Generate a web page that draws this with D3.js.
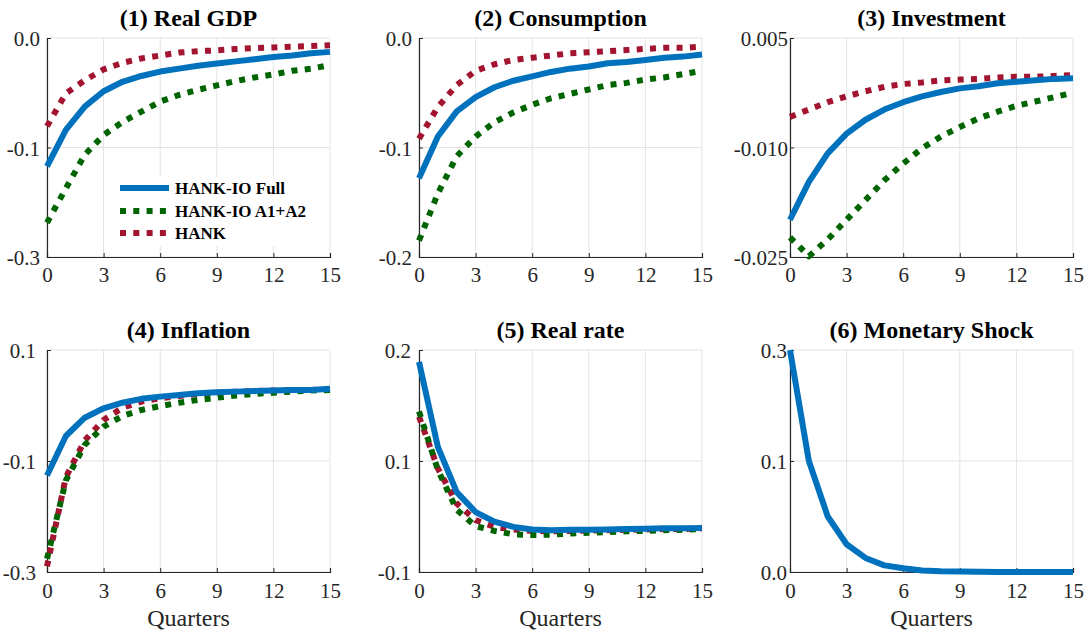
<!DOCTYPE html>
<html>
<head>
<meta charset="utf-8">
<script src="https://cdn.jsdelivr.net/npm/d3@7/dist/d3.min.js"></script>
<style>
  html, body { margin: 0; padding: 0; background: #fff; }
  svg { display: block; font-family: "Liberation Serif", "Times New Roman", serif; }
</style>
</head>
<body>
<svg id="chart" width="1086" height="637"></svg>
<script>
// Horizon (quarters after the shock)
const quarters = [0, 1, 2, 3, 4, 5, 6, 7, 8, 9, 10, 11, 12, 13, 14, 15];
const xTicks = [0, 3, 6, 9, 12, 15];

// Series names
const seriesNames = ["HANK-IO Full", "HANK-IO A1+A2", "HANK"];

// (1) Real GDP
const gdpFull = [-0.176, -0.126, -0.094, -0.073, -0.060, -0.052, -0.046, -0.042, -0.038, -0.035, -0.032, -0.029, -0.026, -0.024, -0.021, -0.019];
const gdpA1A2 = [-0.253, -0.206, -0.160, -0.133, -0.115, -0.101, -0.087, -0.078, -0.071, -0.065, -0.059, -0.054, -0.050, -0.045, -0.042, -0.037];
const gdpHank = [-0.121, -0.076, -0.058, -0.043, -0.034, -0.028, -0.024, -0.020, -0.018, -0.017, -0.015, -0.014, -0.013, -0.012, -0.011, -0.010];

// (2) Consumption
const consFull = [-0.128, -0.090, -0.067, -0.054, -0.045, -0.039, -0.035, -0.031, -0.028, -0.026, -0.023, -0.022, -0.020, -0.018, -0.017, -0.015];
const consA1A2 = [-0.185, -0.142, -0.108, -0.090, -0.077, -0.068, -0.061, -0.055, -0.051, -0.047, -0.043, -0.041, -0.038, -0.036, -0.033, -0.030];
const consHank = [-0.092, -0.063, -0.043, -0.030, -0.024, -0.020, -0.018, -0.016, -0.014, -0.013, -0.012, -0.011, -0.010, -0.009, -0.009, -0.008];

// (3) Investment
const invFull = [-0.0199, -0.0147, -0.0108, -0.0081, -0.0062, -0.0048, -0.0038, -0.0030, -0.0024, -0.0019, -0.0016, -0.0012, -0.0010, -0.0008, -0.0006, -0.0005];
const invA1A2 = [-0.0223, -0.0249, -0.0226, -0.0199, -0.0172, -0.0145, -0.0122, -0.0101, -0.0085, -0.0072, -0.0060, -0.0051, -0.0043, -0.0037, -0.0031, -0.0025];
const invHank = [-0.0058, -0.0048, -0.0038, -0.0030, -0.0023, -0.0017, -0.0013, -0.0011, -0.0008, -0.0007, -0.0006, -0.0004, -0.0003, -0.0003, -0.0002, -0.0001];

// (4) Inflation
const inflFull = [-0.126, -0.055, -0.022, -0.005, 0.005, 0.012, 0.016, 0.019, 0.022, 0.024, 0.025, 0.026, 0.027, 0.028, 0.028, 0.030];
const inflA1A2 = [-0.276, -0.135, -0.071, -0.038, -0.019, -0.008, -0.001, 0.005, 0.010, 0.014, 0.018, 0.021, 0.023, 0.025, 0.027, 0.028];
const inflHank = [-0.290, -0.129, -0.063, -0.026, -0.004, 0.007, 0.013, 0.017, 0.021, 0.023, 0.025, 0.026, 0.027, 0.028, 0.028, 0.029];

// (5) Real rate
const rateFull = [0.184, 0.069, 0.008, -0.019, -0.032, -0.039, -0.0425, -0.0435, -0.043, -0.043, -0.0425, -0.042, -0.0415, -0.041, -0.041, -0.0405];
const rateA1A2 = [0.117, 0.038, -0.016, -0.038, -0.0445, -0.049, -0.050, -0.0495, -0.048, -0.047, -0.046, -0.045, -0.0445, -0.0435, -0.043, -0.042];
const rateHank = [0.110, 0.040, -0.0075, -0.030, -0.039, -0.0425, -0.0445, -0.045, -0.0445, -0.044, -0.0435, -0.043, -0.0425, -0.042, -0.042, -0.041];

// (6) Monetary shock
const shockFull = [0.300, 0.150, 0.075, 0.0375, 0.019, 0.009, 0.005, 0.002, 0.001, 0.0006, 0.0003, 0.0001, 0.0001, 0, 0, 0];

// Y-axis limits, tick positions and tick labels per panel
const yDomains = [[-0.3, 0], [-0.2, 0], [-0.025, 0.005], [-0.3, 0.1], [-0.1, 0.2], [0, 0.3]];
const yTickValues = [[-0.3, -0.15, 0], [-0.2, -0.1, 0], [-0.025, -0.01, 0.005], [-0.3, -0.1, 0.1], [-0.1, 0.05, 0.2], [0, 0.15, 0.3]];
const yTickLabels = [["-0.3", "-0.1", "0.0"], ["-0.2", "-0.1", "0.0"], ["-0.025", "-0.010", "0.005"], ["-0.3", "-0.1", "0.1"], ["-0.1", "0.1", "0.2"], ["0.0", "0.1", "0.3"]];
const titles = ["(1) Real GDP", "(2) Consumption", "(3) Investment", "(4) Inflation", "(5) Real rate", "(6) Monetary Shock"];

const panelSeries = [
  [gdpFull, gdpA1A2, gdpHank],
  [consFull, consA1A2, consHank],
  [invFull, invA1A2, invHank],
  [inflFull, inflA1A2, inflHank],
  [rateFull, rateA1A2, rateHank],
  [shockFull]
];

// Styles
const colors = ["#0072BD", "#006400", "#A2142F"];
const dashes = [null, "6 7.3", "6 7.3"];
const lineW = 6;
const axisColor = "#262626";
const gridColor = "#e3e3e3";
const serif = '"Liberation Serif", "Times New Roman", serif';

// Layout
const colLeft = [47, 419, 790];
const plotW = 283;
const rowTop = [38, 350];
const rowH = [219, 222];
const yLabelGap = [7, 7, 2, 11, 8, 3];

const svg = d3.select("#chart");

titles.forEach((title, i) => {
  const col = i % 3, row = Math.floor(i / 3);
  const x0 = colLeft[col], y0 = rowTop[row], h = rowH[row];
  const x = d3.scaleLinear().domain([0, 15]).range([x0, x0 + plotW]);
  const y = d3.scaleLinear().domain(yDomains[i]).range([y0 + h, y0]);
  const g = svg.append("g");

  // grid
  g.selectAll(".gx").data(xTicks).join("line")
    .attr("x1", d => x(d)).attr("x2", d => x(d))
    .attr("y1", y0).attr("y2", y0 + h)
    .attr("stroke", gridColor).attr("stroke-width", 1);
  g.selectAll(".gy").data(yTickValues[i]).join("line")
    .attr("x1", x0).attr("x2", x0 + plotW)
    .attr("y1", d => y(d)).attr("y2", d => y(d))
    .attr("stroke", gridColor).attr("stroke-width", 1);

  // x axis
  const xAxis = d3.axisBottom(x).tickValues(xTicks).tickSize(-4).tickPadding(row === 0 ? 10 : 11).tickFormat(d3.format("d"));
  const gx = g.append("g").attr("transform", `translate(0,${y0 + h})`).call(xAxis);
  // y axis
  const yAxis = d3.axisLeft(y).tickValues(yTickValues[i]).tickSize(-4).tickPadding(yLabelGap[i])
    .tickFormat((d, k) => yTickLabels[i][k]);
  const gy = g.append("g").attr("transform", `translate(${x0},0)`).call(yAxis);

  [gx, gy].forEach(a => {
    a.attr("font-family", serif).attr("font-size", 21);
    a.select(".domain").attr("stroke", axisColor).attr("stroke-width", 1.2);
    a.selectAll(".tick line").attr("stroke", axisColor);
    a.selectAll(".tick text").attr("fill", axisColor);
  });
  gy.selectAll(".tick text").attr("dy", "0.36em");

  // title
  g.append("text")
    .attr("x", x0 + plotW / 2).attr("y", y0 - 12)
    .attr("text-anchor", "middle")
    .attr("font-family", serif)
    .attr("font-size", 24).attr("font-weight", "bold")
    .attr("fill", "#000")
    .text(title);

  if (row === 1) {
    g.append("text")
      .attr("x", x0 + plotW / 2).attr("y", y0 + h + 54)
      .attr("text-anchor", "middle")
      .attr("font-family", serif)
      .attr("font-size", 24)
      .attr("fill", axisColor)
      .text("Quarters");
  }

  // lines (drawn back to front: HANK, A1+A2, Full)
  const line = d3.line().x((d, k) => x(quarters[k])).y(d => y(d));
  const series = panelSeries[i];
  const order = series.length === 3 ? [2, 1, 0] : [0];
  order.forEach(s => {
    g.append("path")
      .datum(series[s])
      .attr("d", line)
      .attr("fill", "none")
      .attr("stroke", colors[s])
      .attr("stroke-width", lineW)
      .attr("stroke-linejoin", "round")
      .attr("stroke-dasharray", dashes[s]);
  });

  // legend in panel 1
  if (i === 0) {
    const lg = svg.append("g");
    lg.append("rect").attr("x", 113).attr("y", 177).attr("width", 205).attr("height", 69).attr("fill", "#fff");
    const rowsY = [188, 211, 233];
    seriesNames.forEach((name, s) => {
      lg.append("line")
        .attr("x1", 120).attr("x2", 169)
        .attr("y1", rowsY[s]).attr("y2", rowsY[s])
        .attr("stroke", colors[s]).attr("stroke-width", lineW)
        .attr("stroke-dasharray", dashes[s]);
      lg.append("text")
        .attr("x", 175).attr("y", rowsY[s]).attr("dy", "0.35em")
        .attr("font-family", serif)
        .attr("font-size", 17).attr("font-weight", "bold")
        .attr("fill", "#000")
        .text(name);
    });
  }
});
</script>
</body>
</html>
